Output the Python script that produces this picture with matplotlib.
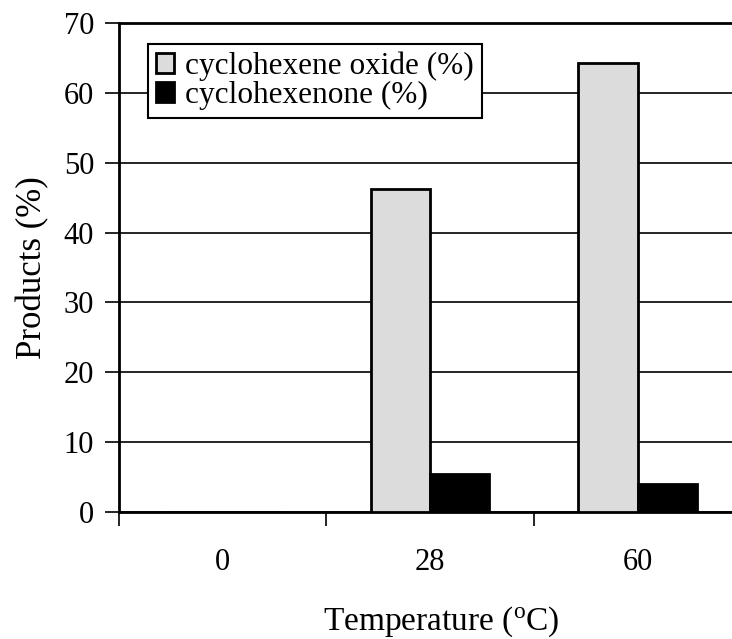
import numpy as np
import matplotlib
matplotlib.use("Agg")
import matplotlib.pyplot as plt

# Data
temperatures = ["0", "28", "60"]
oxide = [0.0, 46.2, 64.3]
enone = [0.0, 5.5, 4.0]

plt.rcParams['font.family'] = ['Liberation Serif', 'DejaVu Serif']

fig = plt.figure(figsize=(7.32, 6.39), dpi=100)
ax = fig.add_axes([0.1626, 0.1987, 0.8374, 0.7653])

x = np.arange(len(temperatures))
w = 0.285
ax.bar(x - w / 2, oxide, w, color='#dcdcdc', edgecolor='black', linewidth=2,
       label='cyclohexene oxide (%)', zorder=3)
ax.bar(x + w / 2, enone, w, color='black', edgecolor='black', linewidth=2,
       label='cyclohexenone (%)', zorder=3)

ax.set_yticks(np.arange(0, 71, 10))
ax.yaxis.grid(True, color='black', linewidth=1.2)
ax.set_axisbelow(True)

ax.set_xticks(x)
ax.set_xticklabels(temperatures)
ax.set_xticks(np.arange(-0.5, 2.0, 1.0), minor=True)
ax.tick_params(axis='x', which='major', length=0, pad=26, labelsize=22)
ax.tick_params(axis='x', which='minor', length=10, width=1.2, direction='out')
ax.tick_params(axis='y', length=10, width=1.2, labelsize=22, pad=8)

# limits last so the tick setters do not widen them
ax.set_xlim(-0.5, 2.455)
ax.set_ylim(0, 70)

for s in ['top', 'left', 'bottom']:
    ax.spines[s].set_linewidth(2)
ax.spines['right'].set_visible(False)

ax.set_ylabel('Products (%)', fontsize=25, labelpad=10)
ax.set_xlabel('Temperature ($\\mathregular{^o}$C)', fontsize=24, va='center')
ax.xaxis.set_label_coords(0.525, -0.225)

leg = ax.legend(loc='upper left', bbox_to_anchor=(0.047, 0.957), fontsize=22.5,
                frameon=True, fancybox=False, edgecolor='black', framealpha=1,
                handlelength=0.6, handleheight=0.6, handletextpad=0.35,
                labelspacing=0.0, borderpad=0.25, borderaxespad=0.0)
leg.get_frame().set_linewidth(1.5)
leg.set_zorder(5)

fig.savefig('out.png', dpi=100)
